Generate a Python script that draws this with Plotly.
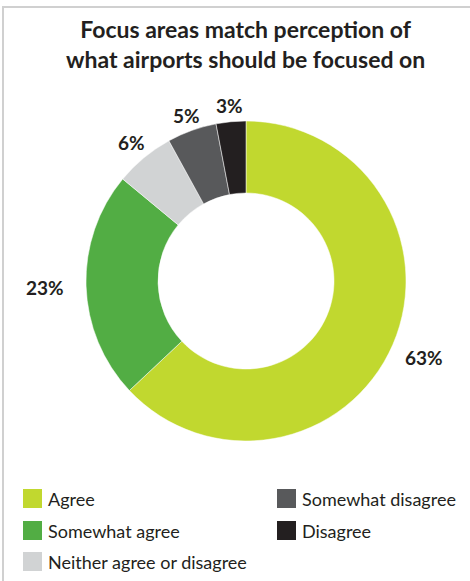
import math
import plotly.graph_objects as go

labels = ["Agree", "Somewhat agree", "Neither agree or disagree", "Somewhat disagree", "Disagree"]
values = [63, 23, 6, 5, 3]
colors = ["#c1d82f", "#52ad44", "#d1d3d4", "#58595b", "#231f20"]
title_lines = ["Focus areas match perception of", "what airports should be focused on"]

W, H = 470, 581
FONT = "Lato"
TXT = "#231f20"
CX, CY, R = 246, 281, 160  # pie centre / radius in pixels

def px(x):
    return x / W

def py(y):
    return 1 - y / H

fig = go.Figure()
fig.add_trace(go.Pie(
    labels=labels, values=values, hole=0.55, sort=False, direction="clockwise", rotation=0,
    marker=dict(colors=colors, line=dict(color="white", width=0.5)),
    textinfo="none",
    showlegend=False, hoverinfo="label+value",
    domain=dict(x=[px(CX - R), px(CX + R)], y=[py(CY + R), py(CY - R)]),
))

shapes = [dict(type="rect", xref="paper", yref="paper", x0=px(3), x1=px(475), y0=py(7), y1=py(590),
               line=dict(color="#d0d0d0", width=2), fillcolor="rgba(0,0,0,0)")]
annotations = [dict(text="<br>".join(title_lines), x=px(245), y=py(13), xref="paper", yref="paper",
                    xanchor="center", yanchor="top", showarrow=False, align="center",
                    font=dict(family=FONT, size=23, color=TXT, weight="bold"))]

# outside percentage labels, placed at each slice's mid-angle
total = sum(values)
cum = 0
for v in values:
    theta = 2 * math.pi * (cum + v / 2) / total
    cum += v
    s, c = math.sin(theta), math.cos(theta)
    r = R + 16 + 25 * s ** 4
    annotations.append(dict(text=f"{v}%", x=px(CX + r * s), y=py(CY - r * c), xref="paper", yref="paper",
                            xanchor="center", yanchor="middle", showarrow=False,
                            font=dict(family=FONT, size=19, color=TXT, weight="bold")))

# custom two-column legend (column-major order)
col_x = [23, 277]
row_y = [489, 521, 552]
for i, (lab, col) in enumerate(zip(labels, colors)):
    c, r = divmod(i, 3)
    x0, y0 = col_x[c], row_y[r]
    shapes.append(dict(type="rect", xref="paper", yref="paper", x0=px(x0), x1=px(x0 + 19),
                       y0=py(y0), y1=py(y0 + 19), fillcolor=col, line=dict(width=0)))
    annotations.append(dict(text=lab, x=px(x0 + 23), y=py(y0 + 9.5), xref="paper", yref="paper",
                            xanchor="left", yanchor="middle", showarrow=False,
                            font=dict(family=FONT, size=18, color=TXT)))

fig.update_layout(
    width=W, height=H, margin=dict(l=0, r=0, t=0, b=0),
    paper_bgcolor="white", plot_bgcolor="white",
    shapes=shapes, annotations=annotations,
)
fig.write_html("out.html")
